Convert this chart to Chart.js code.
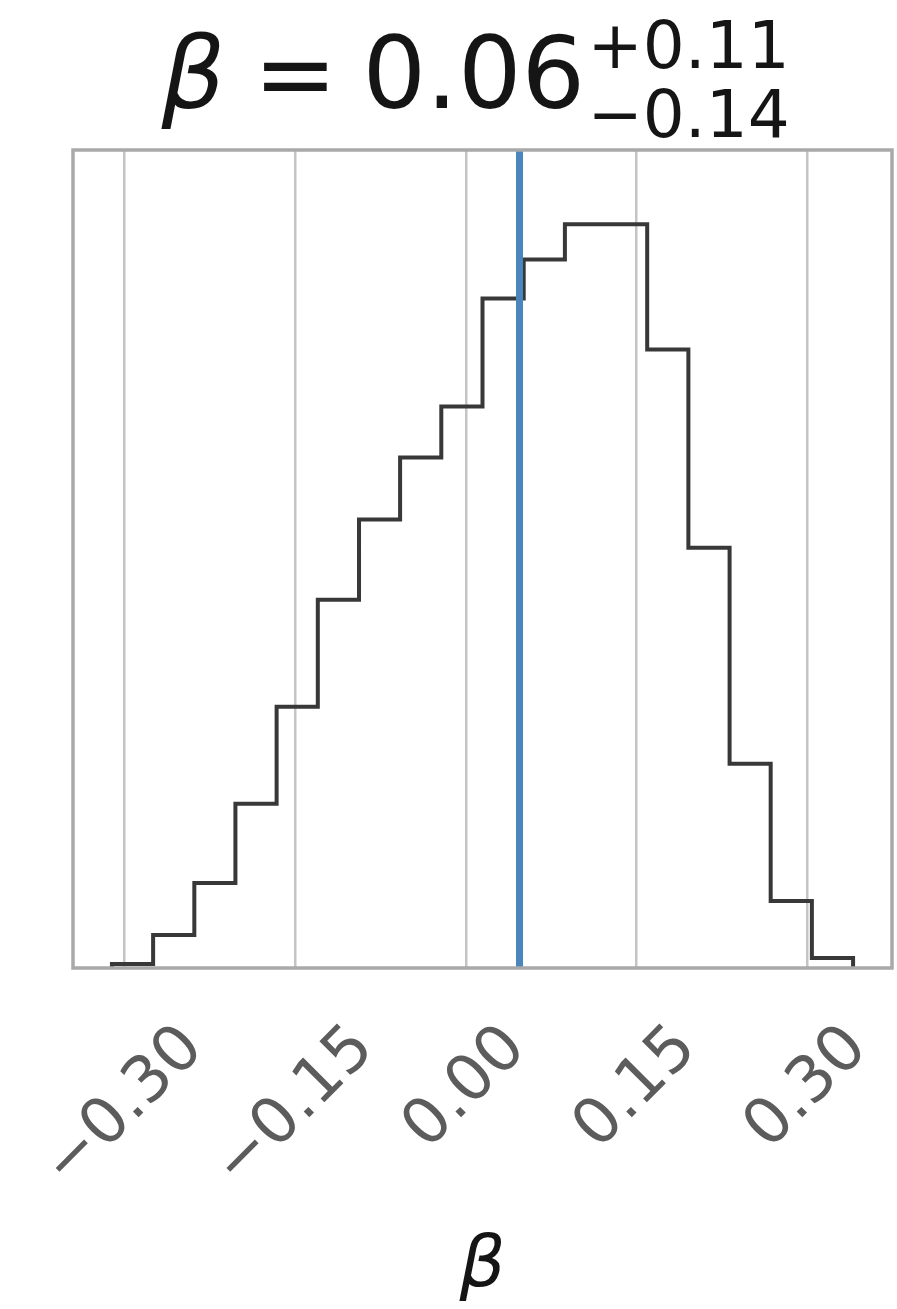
<!DOCTYPE html>
<html>
<head>
<meta charset="utf-8">
<script src="https://cdn.jsdelivr.net/npm/chart.js@4"></script>
<style>
  html, body { margin: 0; padding: 0; background: #fff; }
  #wrap { width: 897px; height: 1309px; position: relative; }
</style>
</head>
<body>
<div id="wrap"><canvas id="chart"></canvas></div>
<script>
// histogram of the beta samples (step outline)
const BIN_EDGES = [
  -0.3111, -0.2749, -0.2387, -0.2026, -0.1664, -0.1302, -0.0940, -0.0579, -0.0217,
  0.0145, 0.0507, 0.0869, 0.1230, 0.1592, 0.1954, 0.2316, 0.2677, 0.3039, 0.3401,
];
const BIN_COUNTS = [4, 33, 85, 164, 261, 368, 448, 510, 561, 669, 708, 743, 743, 618, 420, 204, 67, 10];
const TRUTH_VALUE = 0.047;

const X_RANGE = [-0.3453, 0.3743];
const TICK_VALUES = [-0.30, -0.15, 0.00, 0.15, 0.30];
const TICK_LABELS = ["−0.30", "−0.15", "0.00", "0.15", "0.30"];

const PARAM_LABEL = "β";
const TITLE_MEDIAN = "0.06";
const TITLE_UPPER = "+0.11";
const TITLE_LOWER = "−0.14";

const FONT = '"DejaVu Sans"';
const Y_MAX = Math.max(...BIN_COUNTS) * 1.1;

const stepPoints = [{ x: BIN_EDGES[0], y: 0 }];
BIN_COUNTS.forEach((c, i) => stepPoints.push({ x: BIN_EDGES[i], y: c }));
stepPoints.push({ x: BIN_EDGES[BIN_EDGES.length - 1], y: 0 });

// frame, title with errors, rotated ticks and axis label, matplotlib style
const cornerDecor = {
  id: "cornerDecor",
  afterDatasetsDraw(chart) {
    const { ctx, chartArea: a } = chart;
    ctx.save();
    ctx.strokeStyle = "#a9a9a9";
    ctx.lineWidth = 3.5;
    ctx.strokeRect(a.left, a.top, a.right - a.left, a.bottom - a.top);
    ctx.restore();
  },
  afterDraw(chart) {
    const { ctx, chartArea: a } = chart;
    const cx = (a.left + a.right) / 2;
    const xs = chart.scales.x;
    ctx.save();
    ctx.fillStyle = "#151515";
    ctx.textAlign = "left";
    ctx.textBaseline = "alphabetic";
    ctx.font = `oblique 100px ${FONT}`;
    ctx.fillText(PARAM_LABEL, cx - 321, 108);
    ctx.font = `100px ${FONT}`;
    ctx.fillText("=", cx - 229, 108);
    ctx.fillText(TITLE_MEDIAN, cx - 120, 108);
    ctx.font = `66px ${FONT}`;
    ctx.fillText(TITLE_UPPER, cx + 105, 68);
    ctx.fillText(TITLE_LOWER, cx + 105, 137);

    ctx.fillStyle = "#5c5c5c";
    const tickPx = 64;
    ctx.font = `${tickPx}px ${FONT}`;
    const lineH = tickPx * 1.164;
    const tickTop = a.bottom + 44;
    TICK_VALUES.forEach((v, i) => {
      const px = xs.getPixelForValue(v);
      const w = ctx.measureText(TICK_LABELS[i]).width;
      const half = (w + lineH) / (2 * Math.SQRT2);
      ctx.save();
      ctx.translate(px, tickTop + half);
      ctx.rotate(-Math.PI / 4);
      ctx.textAlign = "center";
      ctx.textBaseline = "middle";
      ctx.fillText(TICK_LABELS[i], 0, 0);
      ctx.restore();
    });

    ctx.fillStyle = "#151515";
    ctx.font = `oblique 72px ${FONT}`;
    ctx.textAlign = "center";
    ctx.fillText(PARAM_LABEL, cx, 1286);
    ctx.restore();
  },
};

new Chart(document.getElementById("chart"), {
  type: "line",
  data: {
    datasets: [
      {
        label: "truth",
        data: [{ x: TRUTH_VALUE, y: 0 }, { x: TRUTH_VALUE, y: Y_MAX }],
        borderColor: "#4a86bb",
        borderWidth: 7,
        pointRadius: 0,
        fill: false,
      },
      {
        label: "posterior",
        data: stepPoints,
        stepped: "before",
        borderColor: "#383838",
        borderWidth: 4,
        pointRadius: 0,
        fill: false,
      },
    ],
  },
  options: {
    responsive: true,
    maintainAspectRatio: false,
    animation: false,
    layout: { padding: { left: 73, right: 5, top: 150, bottom: 341 } },
    scales: {
      x: {
        type: "linear",
        min: X_RANGE[0],
        max: X_RANGE[1],
        afterBuildTicks: (s) => {
          s.ticks = TICK_VALUES.map((v) => ({ value: v }));
        },
        ticks: { display: false },
        grid: { color: "#c4c4c4", lineWidth: 2.5, drawTicks: false },
        border: { display: false },
      },
      y: {
        display: false,
        min: 0,
        max: Y_MAX,
      },
    },
    plugins: {
      legend: { display: false },
      tooltip: { enabled: false },
    },
  },
  plugins: [cornerDecor],
});
</script>
</body>
</html>
